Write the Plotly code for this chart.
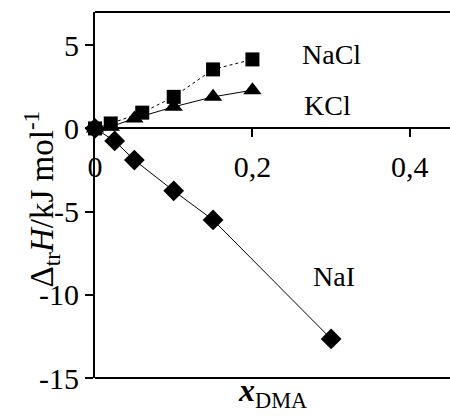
import plotly.graph_objects as go

nacl_x = [0, 0.02, 0.06, 0.10, 0.15, 0.20]
nacl_y = [0, 0.3, 0.95, 1.9, 3.55, 4.15]
kcl_x = [0, 0.02, 0.05, 0.10, 0.15, 0.20]
kcl_y = [0, 0.1, 0.6, 1.3, 1.9, 2.3]
nai_x = [0, 0.025, 0.05, 0.10, 0.15, 0.30]
nai_y = [0, -0.75, -1.9, -3.75, -5.5, -12.65]

labels = ["NaCl", "KCl", "NaI"]
label_x = [0.30, 0.296, 0.303]
label_y = [4.45, 1.4, -8.9]

xticks = [0, 0.2, 0.4]
xticktext = ["0", "0,2", "0,4"]
yticks = [-15, -10, -5, 0, 5]
yticktext = ["-15", "-10", "-5", "0", "5"]

FONT = "Liberation Serif"
XR = [0, 0.451]
YR = [-15, 7]
zero_pos = (0 - YR[0]) / (YR[1] - YR[0])

fig = go.Figure()
fig.add_trace(go.Scatter(x=nacl_x, y=nacl_y, mode="lines+markers", cliponaxis=False,
                         line=dict(color="black", width=1, dash="dot"),
                         marker=dict(symbol="square", size=14, color="black")))
fig.add_trace(go.Scatter(x=kcl_x, y=kcl_y, mode="lines+markers", cliponaxis=False,
                         line=dict(color="black", width=1),
                         marker=dict(symbol="triangle-up", size=16, color="black")))
fig.add_trace(go.Scatter(x=nai_x, y=nai_y, mode="lines+markers", cliponaxis=False,
                         line=dict(color="black", width=1),
                         marker=dict(symbol="diamond", size=16, color="black")))

for t, x, y in zip(labels, label_x, label_y):
    fig.add_annotation(x=x, y=y, text=t, showarrow=False,
                       font=dict(family=FONT, size=28, color="black"))

fig.update_layout(
    width=450, height=416,
    margin=dict(l=95, r=0, t=12, b=38),
    plot_bgcolor="white", paper_bgcolor="white",
    showlegend=False,
    font=dict(family=FONT, size=30, color="black"),
    xaxis=dict(range=XR, anchor="free", position=zero_pos, showline=True,
               linecolor="black", linewidth=1.5, showgrid=False, zeroline=False,
               tickvals=xticks, ticktext=xticktext, ticks="outside", ticklen=8,
               tickcolor="black", tickwidth=1.5, ticklabelstandoff=4,
               tickfont=dict(family=FONT, size=30)),
    xaxis2=dict(range=XR, overlaying="x", anchor="free", position=zero_pos,
                showline=False, showgrid=False, zeroline=False, tickvals=xticks,
                ticks="inside", ticklen=8, tickcolor="black", tickwidth=1.5,
                showticklabels=False),
    yaxis=dict(range=YR, showline=True, linecolor="black", linewidth=2,
               showgrid=False, zeroline=False, tickvals=yticks, ticktext=yticktext,
               ticks="outside", ticklen=8, tickcolor="black", tickwidth=1.5,
               tickfont=dict(family=FONT, size=30)),
    yaxis2=dict(range=YR, overlaying="y", showline=False, showgrid=False,
                zeroline=False, tickvals=yticks, ticks="inside", ticklen=8,
                tickcolor="black", tickwidth=1.5, showticklabels=False),
    shapes=[
        dict(type="line", xref="paper", yref="paper", x0=0, x1=1, y0=1, y1=1,
             line=dict(color="black", width=2)),
        dict(type="line", xref="paper", yref="paper", x0=0, x1=1, y0=0, y1=0,
             line=dict(color="black", width=2)),
    ],
)
fig.add_annotation(xref="paper", yref="paper", x=0.5, y=0, yshift=-14,
                   yanchor="middle", showarrow=False,
                   text="<b><i>x</i></b><sub>DMA</sub>",
                   font=dict(family=FONT, size=32, color="black"))
fig.add_annotation(xref="paper", yref="paper", x=-0.15, y=0.49,
                   xanchor="center", yanchor="middle", textangle=-90,
                   showarrow=False,
                   text="Δ<sub>tr</sub><i>H</i>/kJ mol<sup>-1</sup>",
                   font=dict(family=FONT, size=33, color="black"))

fig.write_html("out.html")
